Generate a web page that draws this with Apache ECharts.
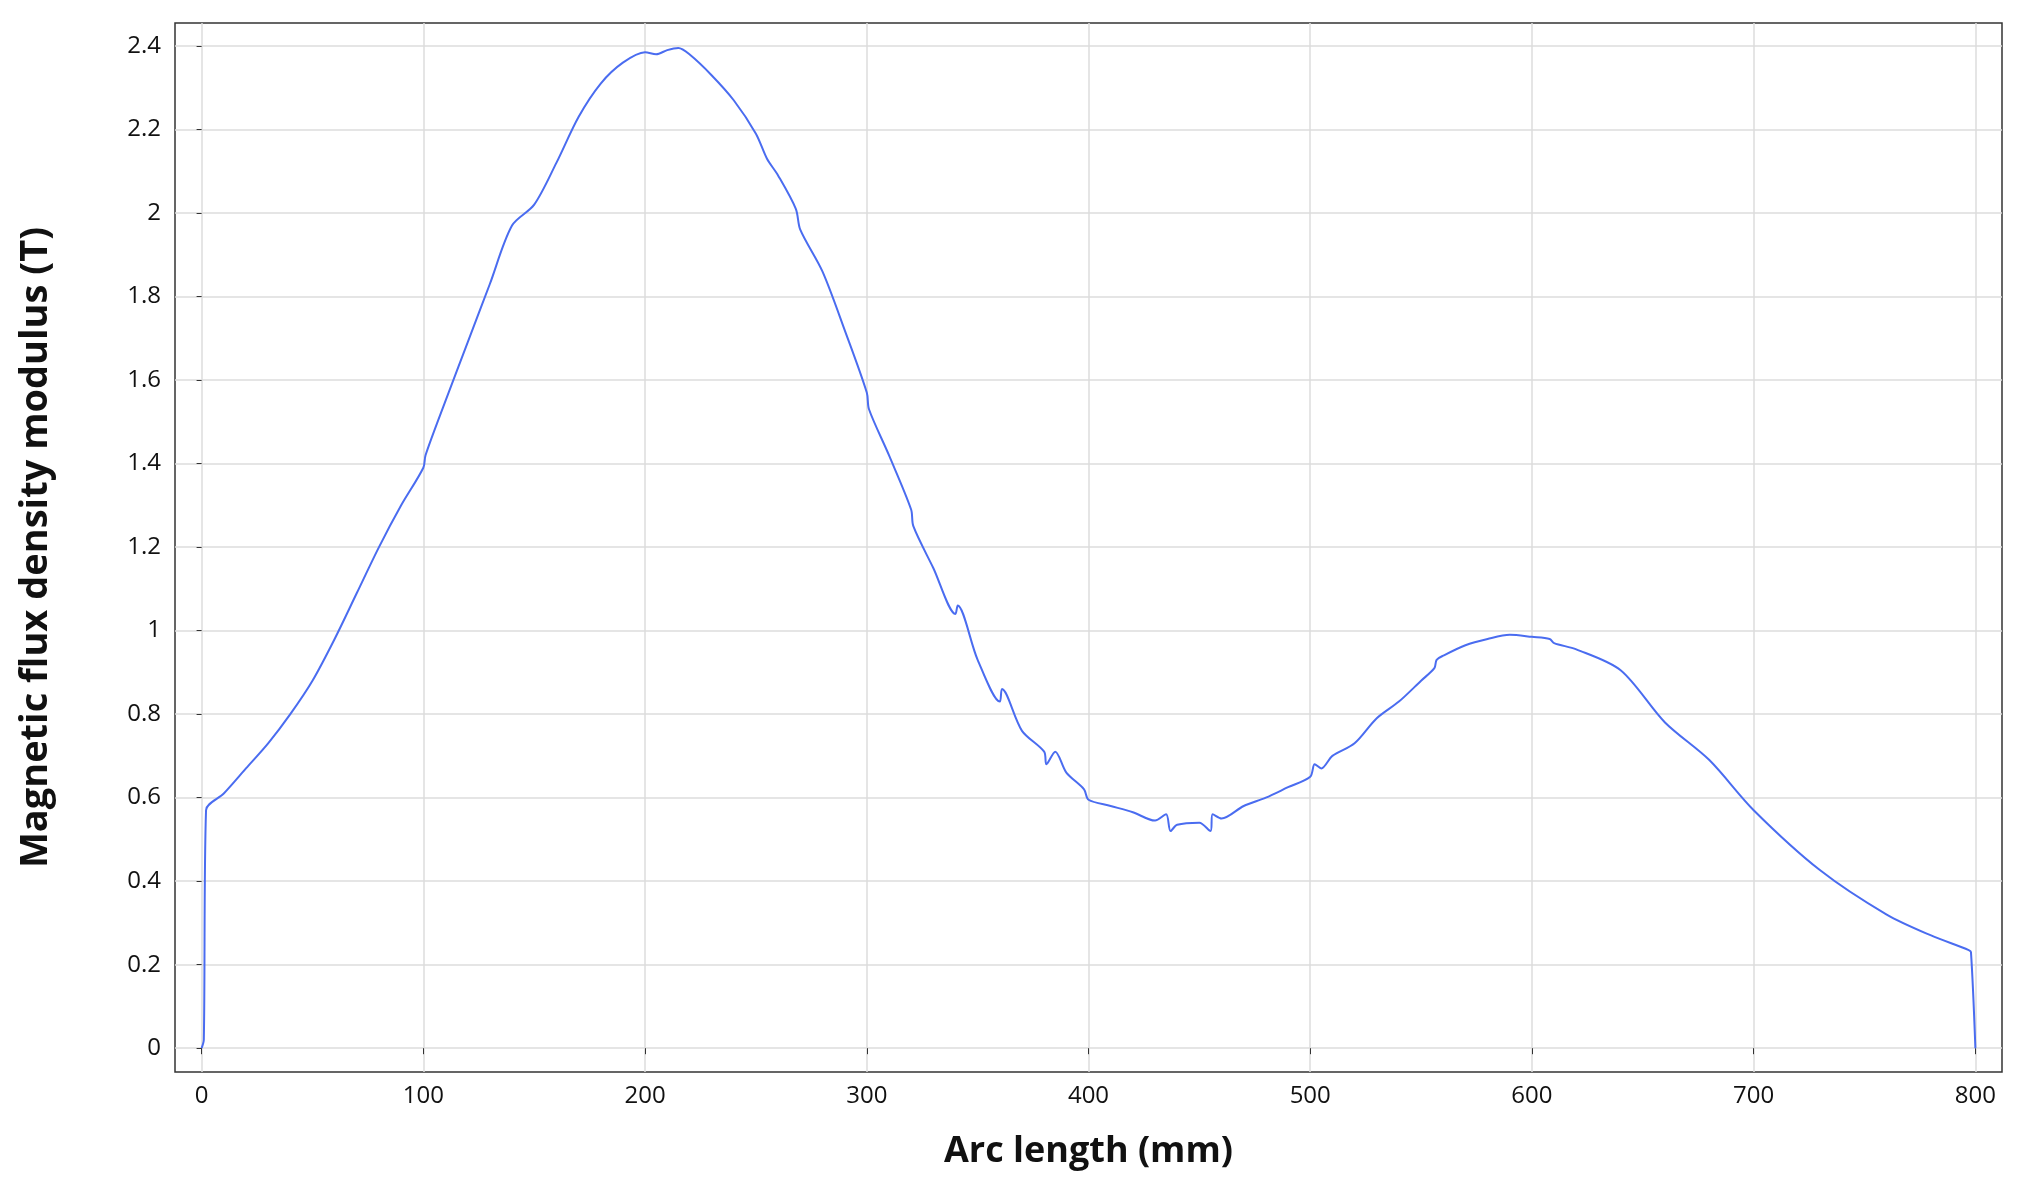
<!DOCTYPE html>
<html><head><meta charset="utf-8">
<script src="https://cdn.jsdelivr.net/npm/echarts@6/dist/echarts.min.js"></script>
<style>html,body{margin:0;background:#fff}#c{width:2021px;height:1196px}</style>
</head><body><div id="c"></div>
<script>
const arcLength = [0,1,2,10,20,30,40,50,60,70,80,90,100,101,110,120,130,140,150,160,170,180,190,200,205,210,215,220,230,240,250,255,260,268,270,280,290,300,301,310,320,321,330,340,341,350,360,361,370,380,381,385,390,398,400,410,420,430,435,437,440,450,455,456,460,470,480,490,500,502,505,510,520,530,540,550,556,557,560,570,580,590,600,608,610,620,640,660,680,700,730,760,780,797,798,800];
const fluxB   = [0,0.02,0.57,0.61,0.67,0.73,0.80,0.88,0.98,1.09,1.20,1.30,1.39,1.42,1.55,1.69,1.83,1.97,2.02,2.12,2.23,2.31,2.36,2.385,2.38,2.39,2.395,2.38,2.33,2.27,2.19,2.13,2.09,2.01,1.96,1.86,1.72,1.57,1.53,1.42,1.29,1.25,1.15,1.04,1.06,0.93,0.83,0.86,0.76,0.71,0.68,0.71,0.66,0.62,0.595,0.58,0.565,0.545,0.56,0.52,0.535,0.54,0.52,0.56,0.55,0.58,0.60,0.625,0.65,0.68,0.67,0.70,0.73,0.79,0.83,0.88,0.91,0.93,0.94,0.965,0.98,0.99,0.985,0.98,0.97,0.955,0.905,0.78,0.69,0.57,0.426,0.32,0.27,0.235,0.23,0];
const xTicks = [0,100,200,300,400,500,600,700,800];
const chart = echarts.init(document.getElementById('c'));
const gridLine = {show:true,lineStyle:{color:'#dcdcdc',width:1.5}};
chart.setOption({
  animation:false,
  grid:{left:175,right:19,top:23,bottom:124,show:true,borderColor:'#333',borderWidth:1.5},
  xAxis:{type:'value',min:-12,max:812,interval:100,
    name:'Arc length (mm)',nameLocation:'middle',nameGap:62,
    nameTextStyle:{fontFamily:'Open Sans',fontSize:36,fontWeight:'bold',color:'#111'},
    axisLine:{show:false},axisTick:{show:true,lineStyle:{color:'#333'},length:6,inside:false,customValues:xTicks},
    splitLine:Object.assign({customValues:xTicks},gridLine),
    axisLabel:{customValues:xTicks,fontFamily:'Open Sans',fontSize:24,color:'#111',margin:12}},
  yAxis:{type:'value',min:-0.057,max:2.455,
    name:'Magnetic flux density modulus (T)',nameLocation:'middle',nameGap:120,
    nameTextStyle:{fontFamily:'Open Sans',fontSize:38,fontWeight:'bold',color:'#111'},
    axisLine:{show:false},
    axisTick:{show:true,customValues:[0,0.2,0.4,0.6,0.8,1,1.2,1.4,1.6,1.8,2,2.2,2.4],lineStyle:{color:'#333'}},
    splitLine:Object.assign({customValues:[0,0.2,0.4,0.6,0.8,1,1.2,1.4,1.6,1.8,2,2.2,2.4]},gridLine),
    axisLabel:{customValues:[0,0.2,0.4,0.6,0.8,1,1.2,1.4,1.6,1.8,2,2.2,2.4],fontFamily:'Open Sans',fontSize:24,color:'#111',margin:14}},
  series:[{type:'line',data:arcLength.map((x,i)=>[x,fluxB[i]]),showSymbol:false,smooth:0.3,
    lineStyle:{color:'#4a6cf0',width:2}}]
});
</script></body></html>
